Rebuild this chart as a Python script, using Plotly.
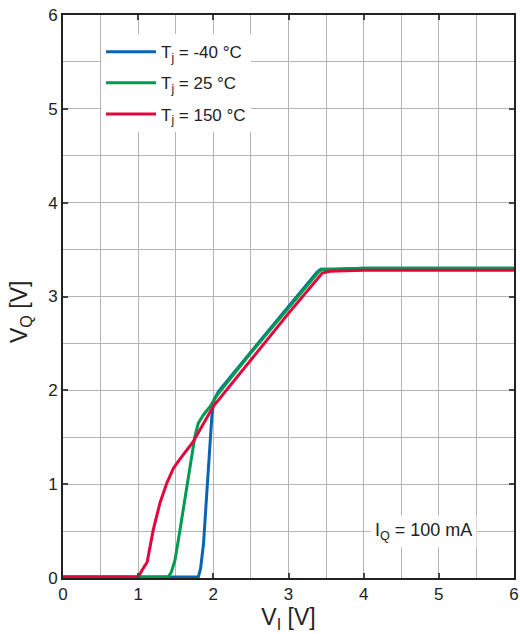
import plotly.graph_objects as go

# Data
blue_x = [0, 1.80, 1.83, 1.87, 1.91, 1.95, 1.98, 2.01, 2.07, 2.5, 3.0, 3.38, 3.43, 3.6, 4, 5, 6]
blue_y = [0.01, 0.01, 0.10, 0.37, 0.87, 1.35, 1.72, 1.90, 1.99, 2.41, 2.89, 3.26, 3.29, 3.29, 3.30, 3.30, 3.30]

green_x = [0, 1.40, 1.44, 1.49, 1.556, 1.61, 1.67, 1.72, 1.755, 1.80, 1.87, 1.95, 2.05, 2.5, 3.0, 3.40, 3.45, 3.6, 4, 5, 6]
green_y = [0.01, 0.01, 0.06, 0.19, 0.51, 0.78, 1.04, 1.30, 1.51, 1.65, 1.74, 1.82, 1.95, 2.40, 2.88, 3.26, 3.29, 3.29, 3.30, 3.30, 3.30]

red_x = [0, 1.00, 1.05, 1.12, 1.20, 1.29, 1.38, 1.47, 1.54, 1.60, 1.73, 2.0, 2.5, 3.0, 3.45, 3.55, 4, 5, 6]
red_y = [0.01, 0.01, 0.08, 0.17, 0.51, 0.80, 1.01, 1.17, 1.25, 1.31, 1.45, 1.83, 2.33, 2.82, 3.25, 3.27, 3.28, 3.28, 3.28]

names = ["T<sub>j</sub> = -40 °C", "T<sub>j</sub> = 25 °C", "T<sub>j</sub> = 150 °C"]
colors = ["#0a64b4", "#009a50", "#e2063c"]
series = [(blue_x, blue_y), (green_x, green_y), (red_x, red_y)]

x_ticks = [0, 1, 2, 3, 4, 5, 6]
y_ticks = [0, 1, 2, 3, 4, 5, 6]

FONT = "Liberation Sans, Arial, Helvetica, sans-serif"

fig = go.Figure()
for i, ((xs, ys), nm, c) in enumerate(zip(series, names, colors)):
    fig.add_trace(go.Scatter(x=xs, y=ys, mode="lines", name=nm, legendgroup=f"g{i}",
                             line=dict(color=c, width=3)))

axis_common = dict(
    showgrid=True, gridcolor="#b4b4b4", gridwidth=1.3,
    minor=dict(dtick=0.5, showgrid=True, gridcolor="#b4b4b4", gridwidth=1.3),
    showline=True, linecolor="#222222", linewidth=2, mirror="ticks",
    ticks="inside", ticklen=5, tickcolor="#444444", tickwidth=2,
    zeroline=False, tickfont=dict(size=17, color="#222222", family=FONT),
    automargin=False,
)

fig.update_xaxes(range=[0, 6], tickvals=x_ticks,
                 title=dict(text="V<sub>I</sub> [V]", font=dict(size=23, color="#222222", family=FONT), standoff=2),
                 **axis_common)
fig.update_yaxes(range=[0, 6], tickvals=y_ticks, **axis_common)

# y-axis title placed as a rotated annotation to match the reference position
fig.add_annotation(x=(21 - 63) / 451, y=0.4725, xref="paper", yref="paper",
                   text="V<sub>Q</sub> [V]", showarrow=False, textangle=-90,
                   xanchor="center", yanchor="middle",
                   font=dict(size=23, color="#222222", family=FONT))

fig.add_annotation(x=4.8, y=0.5, xref="x", yref="y",
                   text="I<sub>Q</sub> = 100 mA", showarrow=False,
                   font=dict(size=18, color="#222222", family=FONT),
                   bgcolor="white", borderpad=4)

fig.update_layout(
    width=520, height=634,
    margin=dict(l=63, r=6, t=15, b=56, autoexpand=False),
    plot_bgcolor="white", paper_bgcolor="white",
    font=dict(family=FONT, color="#222222"),
    legend=dict(x=(101 - 63) / 451, y=0.966, xanchor="left", yanchor="top",
                bgcolor="white", borderwidth=0,
                font=dict(size=17, family=FONT, color="#222222"),
                itemwidth=50, tracegroupgap=6),
)

fig.write_html("out.html")
